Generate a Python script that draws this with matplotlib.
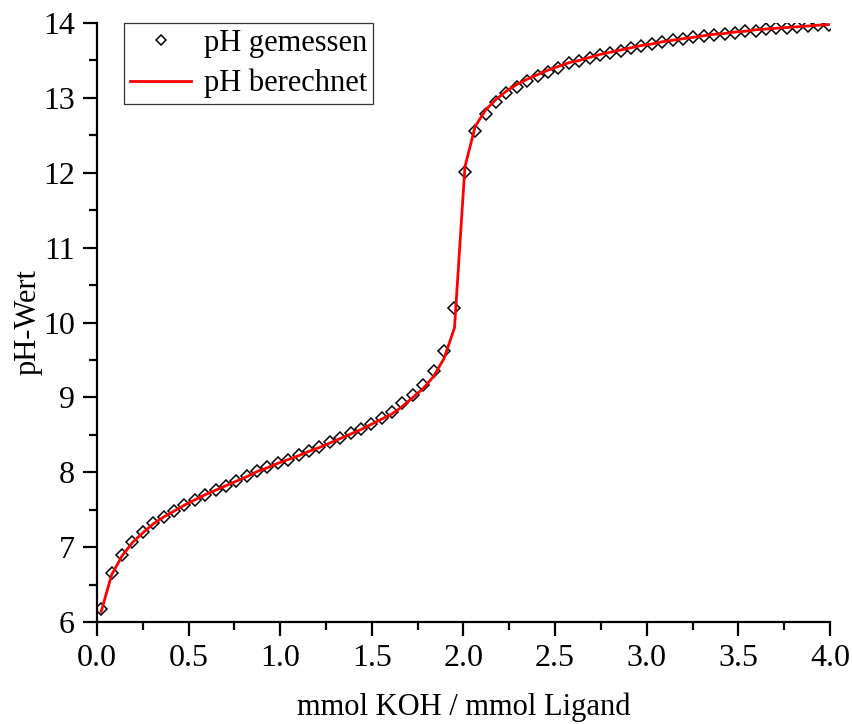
import matplotlib.pyplot as plt
from matplotlib.ticker import MultipleLocator

plt.rcParams["font.family"] = ["Liberation Serif", "DejaVu Serif"]

# KOH-Zugabe (mmol KOH / mmol Ligand)
koh = [0.023, 0.080, 0.136, 0.193, 0.250, 0.307, 0.363, 0.420, 0.477, 0.533,
       0.590, 0.647, 0.703, 0.760, 0.817, 0.874, 0.930, 0.987, 1.044, 1.100,
       1.157, 1.214, 1.270, 1.327, 1.384, 1.441, 1.497, 1.554, 1.611, 1.667,
       1.724, 1.781, 1.837, 1.894, 1.951, 2.008, 2.064, 2.121, 2.178, 2.234,
       2.291, 2.348, 2.404, 2.461, 2.518, 2.575, 2.631, 2.688, 2.745, 2.801,
       2.858, 2.915, 2.971, 3.028, 3.085, 3.141, 3.198, 3.255, 3.312, 3.368,
       3.425, 3.482, 3.538, 3.595, 3.652, 3.708, 3.765, 3.822, 3.878, 3.935,
       3.992]

ph_gemessen = [6.17, 6.66, 6.90, 7.07, 7.20, 7.32, 7.40, 7.48, 7.56, 7.63,
               7.70, 7.76, 7.82, 7.88, 7.95, 8.02, 8.07, 8.12, 8.17, 8.23,
               8.28, 8.34, 8.40, 8.46, 8.52, 8.58, 8.65, 8.73, 8.80, 8.92,
               9.03, 9.17, 9.35, 9.62, 10.20, 12.01, 12.56, 12.79, 12.94, 13.06,
               13.15, 13.23, 13.29, 13.35, 13.40, 13.46, 13.49, 13.53, 13.57, 13.60,
               13.63, 13.66, 13.69, 13.72, 13.75, 13.77, 13.79, 13.81, 13.82, 13.84,
               13.86, 13.87, 13.89, 13.90, 13.92, 13.93, 13.94, 13.95, 13.96, 13.97,
               13.98]

ph_berechnet = [6.14, 6.63, 6.88, 7.06, 7.19, 7.31, 7.40, 7.48, 7.56, 7.63,
                7.70, 7.76, 7.82, 7.88, 7.94, 8.01, 8.06, 8.12, 8.17, 8.22,
                8.28, 8.33, 8.39, 8.45, 8.51, 8.57, 8.64, 8.71, 8.78, 8.88,
                9.00, 9.12, 9.28, 9.52, 9.93, 12.08, 12.62, 12.84, 12.98, 13.09,
                13.18, 13.25, 13.31, 13.37, 13.42, 13.47, 13.50, 13.54, 13.58, 13.61,
                13.64, 13.67, 13.70, 13.72, 13.75, 13.77, 13.79, 13.81, 13.83, 13.85,
                13.86, 13.88, 13.89, 13.91, 13.92, 13.93, 13.94, 13.95, 13.96, 13.97,
                13.98]

fig = plt.figure(figsize=(8.53, 7.24), dpi=100)
ax = fig.add_axes([0.1137, 0.1409, 0.8593, 0.8273])

ax.plot(koh, ph_gemessen, linestyle="none", marker="D", markersize=5.8,
        markerfacecolor="white", markeredgecolor="black", markeredgewidth=1.1,
        label="pH gemessen", zorder=2)
ax.plot(koh, ph_berechnet, color="red", linewidth=2.0, label="pH berechnet", zorder=3)

ax.set_xlim(0, 4.0)
ax.set_ylim(6, 14)
ax.xaxis.set_major_locator(MultipleLocator(0.5))
ax.xaxis.set_minor_locator(MultipleLocator(0.25))
ax.yaxis.set_major_locator(MultipleLocator(1))
ax.yaxis.set_minor_locator(MultipleLocator(0.5))
ax.set_xticklabels([f"{v:.1f}" for v in ax.get_xticks()])

for side in ["top", "right"]:
    ax.spines[side].set_visible(False)
for side in ["left", "bottom"]:
    ax.spines[side].set_linewidth(1.6)

ax.tick_params(which="major", direction="out", length=10, width=1.6,
               labelsize=23, pad=6)
ax.tick_params(which="minor", direction="out", length=5.5, width=1.6)

ax.set_xlabel("mmol KOH / mmol Ligand", fontsize=22, labelpad=14)
ax.set_ylabel("pH-Wert", fontsize=22, labelpad=0)

leg = ax.legend(loc="upper left", bbox_to_anchor=(0.037, 1.0), borderaxespad=0,
                fontsize=22, frameon=True, fancybox=False, edgecolor="black",
                markerscale=0.8, handlelength=2.0, handletextpad=0.4,
                borderpad=0.2, labelspacing=0.35)
leg.get_frame().set_linewidth(0.9)

plt.savefig("out.png", dpi=100)
